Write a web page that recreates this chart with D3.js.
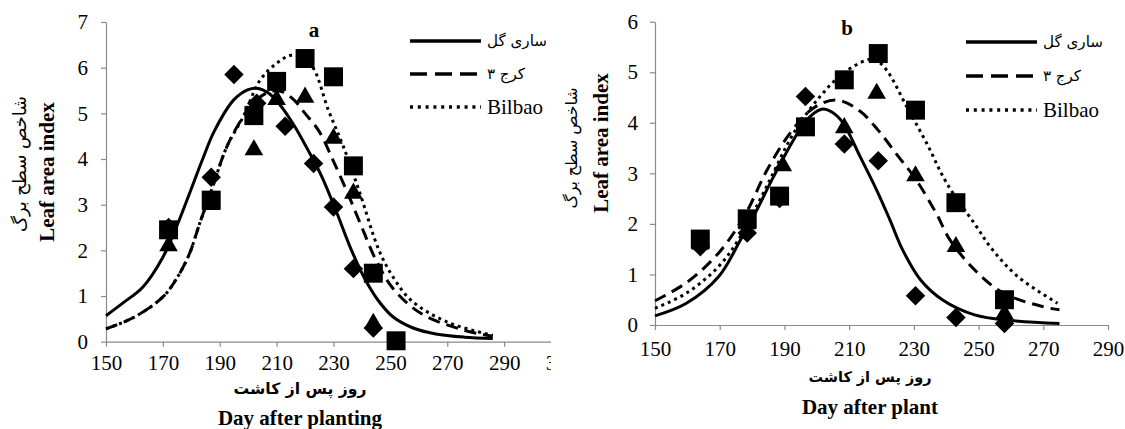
<!DOCTYPE html>
<html>
<head>
<meta charset="utf-8">
<script src="https://cdn.jsdelivr.net/npm/d3@7"></script>
<style>
body { margin: 0; background: #fff; }
svg { display: block; }
</style>
</head>
<body>
<div class="visualization"></div>
<script>
/*
Leaf area index vs day after planting, two panels (a, b)
*/

var legendNames = ["ساری گل", "کرج ۳", "Bilbao"];

// panel a observed points [day, LAI]
var aDiamond = [[172, 2.5], [187, 3.6], [195, 5.85], [203, 5.22], [213, 4.72], [223, 3.9], [230, 2.95], [237, 1.6], [244, 0.3]];
var aSquare = [[172, 2.45], [187, 3.1], [202, 4.95], [210, 5.7], [220, 6.2], [230, 5.8], [237, 3.85], [244, 1.5], [252, 0.02]];
var aTriangle = [[172, 2.1], [187, 3.0], [202, 4.2], [210, 5.3], [220, 5.35], [230, 4.45], [237, 3.25], [244, 0.4]];

// panel a fitted curves
var aSolid = [[150, 0.57], [156, 0.85], [163, 1.2], [170, 1.85], [175, 2.55], [180, 3.35], [184, 4.0], [188, 4.6], [195, 5.3], [200, 5.52], [203, 5.55], [207, 5.45], [211, 5.2], [216, 4.75], [221, 4.2], [226, 3.6], [231, 2.85], [236, 2.05], [241, 1.38], [246, 0.88], [251, 0.54], [258, 0.3], [266, 0.17], [276, 0.1], [286, 0.07]];
var aDashed = [[150, 0.28], [160, 0.54], [170, 0.98], [175, 1.4], [179.3, 1.92], [183, 2.6], [187, 3.3], [192.5, 4.27], [198.3, 4.93], [203, 5.3], [208, 5.48], [212, 5.47], [216, 5.3], [220, 5.0], [225, 4.6], [230, 3.95], [235, 3.25], [240, 2.5], [245, 1.78], [251, 1.16], [261, 0.61], [276, 0.25], [286, 0.12]];
var aDotted = [[150, 0.28], [160, 0.54], [170, 0.98], [175, 1.4], [179.3, 1.92], [183, 2.6], [187, 3.3], [192.5, 4.27], [198.3, 4.93], [204.2, 5.73], [210.1, 6.1], [215, 6.27], [219, 6.22], [222.9, 5.99], [228.2, 5.07], [233.5, 4.27], [239.3, 3.25], [246, 2.0], [251, 1.41], [257.4, 0.9], [270, 0.43], [286, 0.14]];

// panel b observed points
var bDiamond = [[164, 1.55], [178.5, 1.82], [188.5, 2.5], [196.5, 4.52], [208.5, 3.58], [219, 3.25], [230.5, 0.58], [243, 0.15], [258, 0.03]];
var bSquare = [[164, 1.7], [178.5, 2.1], [188.5, 2.55], [196.5, 3.92], [208.5, 4.85], [219, 5.37], [230.5, 4.25], [243, 2.42], [258, 0.5]];
var bTriangle = [[164, 1.6], [178.5, 2.0], [189.5, 3.15], [196.5, 3.9], [208.5, 3.9], [218.5, 4.58], [230.5, 2.95], [243, 1.55], [258, 0.22]];

// panel b fitted curves
var bSolid = [[150, 0.18], [159.7, 0.43], [169.7, 0.96], [176.4, 1.68], [180.4, 2.14], [186.6, 2.93], [192.8, 3.66], [196.9, 4.06], [201.5, 4.27], [205, 4.2], [208.2, 3.99], [213.4, 3.33], [218.5, 2.67], [222.6, 2.08], [226.5, 1.49], [232.1, 0.89], [238.8, 0.5], [248.8, 0.2], [259.9, 0.09], [275, 0.03]];
var bDashed = [[150, 0.48], [160, 0.85], [170, 1.45], [178, 2.2], [184.5, 3.05], [191.7, 3.79], [198.9, 4.29], [206, 4.45], [213, 4.25], [219, 3.85], [225, 3.35], [230.4, 2.9], [237, 2.2], [241, 1.7], [248.8, 1.09], [257.7, 0.63], [270, 0.36], [275, 0.3]];
var bDotted = [[150, 0.33], [159.7, 0.63], [169.7, 1.16], [176.4, 1.75], [184.5, 2.74], [192.8, 3.79], [201, 4.52], [208.2, 4.98], [215.4, 5.24], [218, 5.25], [221.6, 5.04], [227.8, 4.32], [234, 3.59], [240.2, 2.8], [248.8, 2.0], [254.3, 1.49], [262.1, 0.96], [274.4, 0.43]];

var xTicksA = [150, 170, 190, 210, 230, 250, 270, 290, 310];
var yTicksA = [0, 1, 2, 3, 4, 5, 6, 7];
var xTicksB = [150, 170, 190, 210, 230, 250, 270, 290];
var yTicksB = [0, 1, 2, 3, 4, 5, 6];

var width = 1125;
var height = 429;
var serif = "'Liberation Serif', 'Times New Roman', serif";
var persian = "'DejaVu Sans', sans-serif";
var axisColor = "#8a8a8a";

var svg = d3.select(".visualization").append("svg")
    .attr("width", width)
    .attr("height", height);

svg.append("defs").append("clipPath")
    .attr("id", "clipA")
    .append("rect")
    .attr("x", 0).attr("y", 0)
    .attr("width", 551).attr("height", height);

var lineStyles = [
    {dash: null, width: 3},
    {dash: "12,7", width: 3},
    {dash: "3,4", width: 3}
];

//shrink or grow a Persian label until it spans the wanted width
function fitWidth(sel, want){
    var fs = 16;
    sel.style("font-size", fs + "px");
    var w = sel.node().getComputedTextLength();
    if(w > 0){
        sel.style("font-size", (fs * want / w).toFixed(2) + "px");
    }
}

function drawPanel(p){
    var g = svg.append("g");
    if(p.clip){
        g.attr("clip-path", "url(#clipA)");
    }
    var xScale = d3.scaleLinear().domain(p.xDomain).range(p.xRange);
    var yScale = d3.scaleLinear().domain(p.yDomain).range(p.yRange);

    // x-axis
    var xAxis = d3.axisBottom(xScale)
        .tickValues(p.xTicks)
        .tickFormat(d3.format("d"))
        .tickSize(5)
        .tickSizeOuter(0)
        .tickPadding(p.xPad);
    var xg = g.append("g")
        .attr("transform", "translate(0," + yScale(0) + ")")
        .call(xAxis);

    // y-axis
    var yAxis = d3.axisLeft(yScale)
        .tickValues(p.yTicks)
        .tickFormat(d3.format("d"))
        .tickSize(5)
        .tickSizeOuter(0)
        .tickPadding(p.yPad);
    var yg = g.append("g")
        .attr("transform", "translate(" + xScale(p.xDomain[0]) + ",0)")
        .call(yAxis);

    [xg, yg].forEach(function(a){
        a.attr("font-family", null).attr("font-size", null);
        a.select(".domain").attr("stroke", axisColor).attr("stroke-width", 1.2);
        a.selectAll(".tick line").attr("stroke", axisColor).attr("stroke-width", 1.2);
        a.selectAll(".tick text")
            .attr("fill", "#000")
            .style("font-family", serif)
            .style("font-size", "21px");
    });

    // fitted curves
    var line = d3.line()
        .x(function(d){ return xScale(d[0]); })
        .y(function(d){ return yScale(d[1]); })
        .curve(d3.curveCatmullRom.alpha(0.5));
    p.curves.forEach(function(c, i){
        g.append("path")
            .datum(c)
            .attr("d", line)
            .attr("fill", "none")
            .attr("stroke", "#000")
            .attr("stroke-width", lineStyles[i].width)
            .attr("stroke-dasharray", lineStyles[i].dash);
    });

    // observed points
    var marks = [
        {data: p.diamonds, type: d3.symbolSquare, size: 190, rot: 45},
        {data: p.squares, type: d3.symbolSquare, size: 360, rot: 0},
        {data: p.triangles, type: d3.symbolTriangle, size: 150, rot: 0}
    ];
    marks.forEach(function(m){
        g.selectAll(null)
            .data(m.data)
            .enter().append("path")
            .attr("d", d3.symbol().type(m.type).size(m.size))
            .attr("transform", function(d){
                return "translate(" + xScale(d[0]) + "," + yScale(d[1]) + ") rotate(" + m.rot + ")";
            })
            .attr("fill", "#000");
    });

    // panel letter
    g.append("text")
        .attr("x", p.letterPos[0]).attr("y", p.letterPos[1])
        .attr("text-anchor", "middle")
        .style("font-family", serif)
        .style("font-size", "21px")
        .style("font-weight", "bold")
        .text(p.letter);

    // legend
    var legendWidths = [60, 38];
    p.legendY.forEach(function(ly, i){
        g.append("line")
            .attr("x1", p.legendX).attr("x2", p.legendX + 71)
            .attr("y1", ly).attr("y2", ly)
            .attr("stroke", "#000")
            .attr("stroke-width", 3.5)
            .attr("stroke-dasharray", i == 1 ? "17,8" : (i == 2 ? "3,4.8" : null));
        var t = g.append("text")
            .attr("x", p.legendX + 77)
            .attr("y", ly)
            .attr("dy", "0.35em")
            .style("font-family", i == 2 ? serif : persian)
            .style("font-size", "21px")
            .text(legendNames[i]);
        if(i < 2){
            fitWidth(t, legendWidths[i]);
        }
    });

    // y-axis titles
    var yFa = g.append("text")
        .attr("transform", "translate(" + p.yTitleFa[0] + "," + p.yTitleFa[1] + ") rotate(-90)")
        .attr("text-anchor", "middle")
        .attr("dy", "0.35em")
        .style("font-family", persian)
        .text("شاخص سطح برگ");
    fitWidth(yFa, p.yTitleFaW);
    g.append("text")
        .attr("transform", "translate(" + p.yTitleEn[0] + "," + p.yTitleEn[1] + ") rotate(-90)")
        .attr("text-anchor", "middle")
        .attr("dy", "0.35em")
        .style("font-family", serif)
        .style("font-size", "21px")
        .style("font-weight", "bold")
        .text("Leaf area index");

    // x-axis titles
    var xFa = g.append("text")
        .attr("x", p.xTitleX).attr("y", p.xTitleFaY)
        .attr("text-anchor", "middle")
        .attr("dy", "0.35em")
        .style("font-family", persian)
        .style("font-weight", "bold")
        .text("روز پس از کاشت");
    fitWidth(xFa, p.xTitleFaW);
    g.append("text")
        .attr("x", p.xTitleX).attr("y", p.xTitleEnY)
        .attr("text-anchor", "middle")
        .attr("dy", "0.35em")
        .style("font-family", serif)
        .style("font-size", "21px")
        .style("font-weight", "bold")
        .text(p.xTitle);
}

drawPanel({
    clip: true,
    xDomain: [150, 310], xRange: [106, 561],
    yDomain: [0, 7], yRange: [341.7, 22],
    xTicks: xTicksA, yTicks: yTicksA,
    xPad: 8, yPad: 13,
    curves: [aSolid, aDashed, aDotted],
    diamonds: aDiamond, squares: aSquare, triangles: aTriangle,
    letter: "a", letterPos: [314, 37],
    legendX: 410, legendY: [41, 74, 107],
    yTitleFa: [20, 164], yTitleFaW: 136, yTitleEn: [47, 172],
    xTitleX: 300, xTitleFaY: 389, xTitleFaW: 133, xTitleEnY: 418,
    xTitle: "Day after planting"
});

drawPanel({
    clip: false,
    xDomain: [150, 290], xRange: [655, 1108],
    yDomain: [0, 6], yRange: [325, 21.7],
    xTicks: xTicksB, yTicks: yTicksB,
    xPad: 11, yPad: 12,
    curves: [bSolid, bDashed, bDotted],
    diamonds: bDiamond, squares: bSquare, triangles: bTriangle,
    letter: "b", letterPos: [847, 35],
    legendX: 966, legendY: [42, 76, 110],
    yTitleFa: [571, 148], yTitleFaW: 121, yTitleEn: [601, 143],
    xTitleX: 870, xTitleFaY: 377, xTitleFaW: 123, xTitleEnY: 407,
    xTitle: "Day after plant"
});
</script>
</body>
</html>
